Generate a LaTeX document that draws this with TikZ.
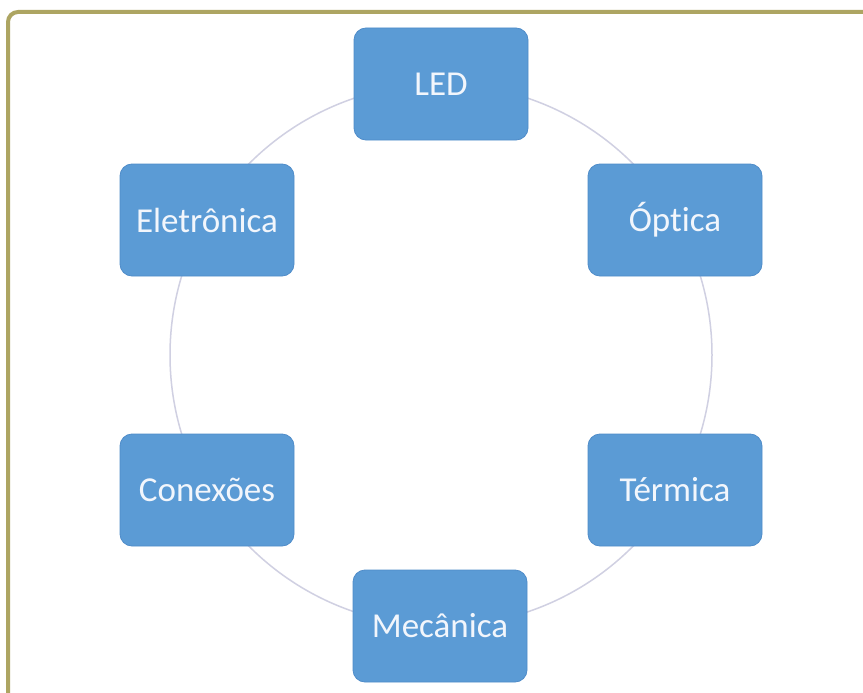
\documentclass[tikz,border=0pt]{standalone}
\usepackage{fontspec}
\setmainfont[Ligatures={NoCommon}]{Carlito}
\definecolor{boxfill}{HTML}{5B9BD5}
\definecolor{boxdraw}{HTML}{4F8CC9}
\definecolor{ringcol}{HTML}{D0D0E2}
\definecolor{framecol}{HTML}{ADA562}
\definecolor{boxtext}{HTML}{F2F6FC}
\tikzset{
  stagebox/.style={rectangle, rounded corners=12pt, fill=boxfill, draw=boxdraw, line width=0.8pt,
    minimum width=174pt, minimum height=112pt, text=boxtext, inner sep=0pt,
    font=\fontsize{35}{38}\selectfont},
  ring/.style={draw=ringcol, line width=1.5pt},
  frameline/.style={draw=framecol, line width=4pt}
}
\begin{document}
\begin{tikzpicture}[x=1pt,y=-1pt]
\useasboundingbox (0,0) rectangle (863,693);
\fill[white] (0,0) rectangle (863,693);
\draw[frameline, rounded corners=10pt] (870,12) -- (8,12) -- (8,700);
\coordinate (c) at (441,355);
\draw[ring] (c) circle[radius=271pt];
\node[stagebox] (led) at (441,84) {LED};
\node[stagebox] (opt) at (675,220) {Óptica};
\node[stagebox] (ter) at (675,490) {Térmica};
\node[stagebox] (mec) at (440,626) {Mecânica};
\node[stagebox] (con) at (207,490) {Conexões};
\node[stagebox] (ele) at (207,220) {Eletrônica};
\end{tikzpicture}
\end{document}
